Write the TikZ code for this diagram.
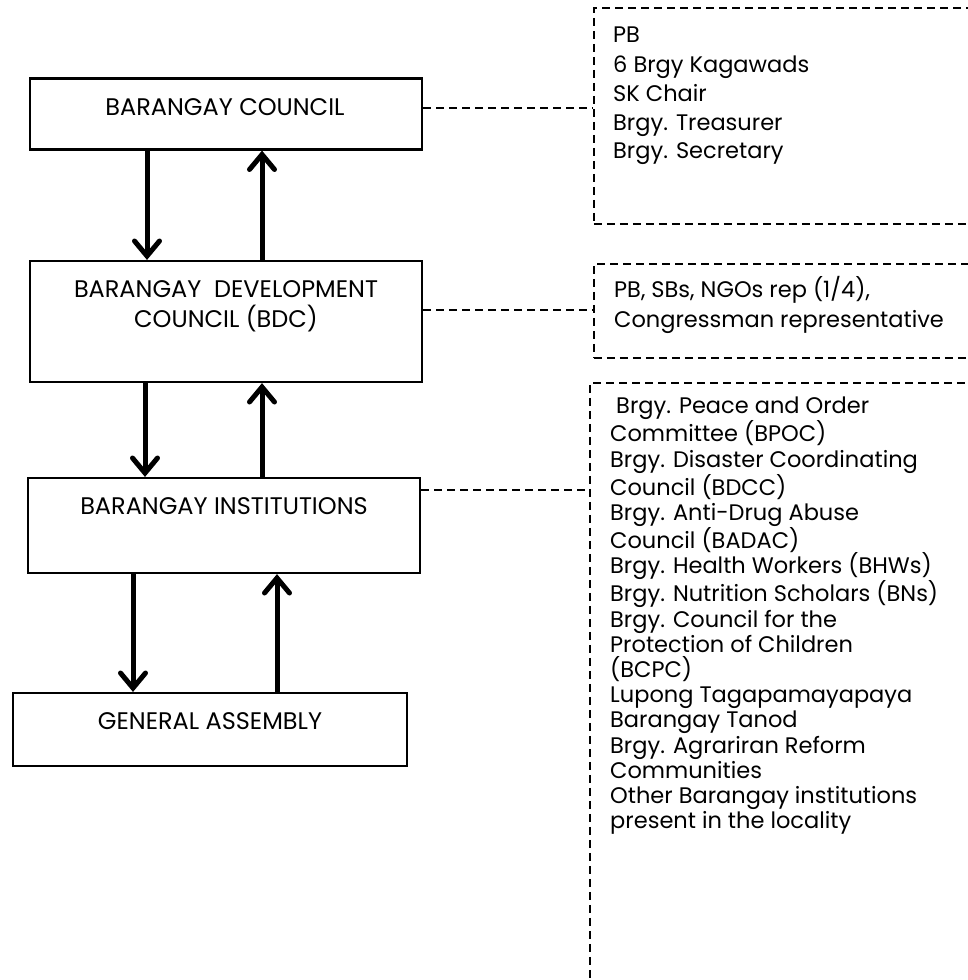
\documentclass[tikz,border=0pt]{standalone}
\usepackage{fontspec}
\setmainfont{Poppins}
\usetikzlibrary{arrows.meta,positioning,calc}

\begin{document}
\begin{tikzpicture}[
        x=1pt, y=1pt,
        unit/.style={draw, line width=2.2pt, rectangle, inner sep=0pt},
        list/.style={draw, dash pattern=on 8pt off 5pt, line width=1.9pt, rectangle, inner sep=0pt},
        caption/.style={font=\fontsize{24}{30}\selectfont, align=center, inner sep=0pt},
        members/.style={font=\fontsize{22.5}{29.5}\selectfont, align=left, inner sep=0pt},
        flow/.style={line width=5pt, -{Straight Barb[length=15pt, width=25pt, line width=5pt, line cap=round]}},
        link/.style={dash pattern=on 8pt off 5pt, line width=1.9pt}
    ]
        \useasboundingbox (0,0) rectangle (968,-980);
        \clip (0,0) rectangle (968,-980);

        % Hierarchy boxes
        \node[unit, minimum width=392pt, minimum height=71pt] (council) at (226,-114) {};
        \node[unit, minimum width=392pt, minimum height=121pt] (bdc) at (226,-321.5) {};
        \node[unit, minimum width=392pt, minimum height=95pt] (inst) at (224,-525.5) {};
        \node[unit, minimum width=394pt, minimum height=73pt] (assembly) at (210,-729.5) {};

        % Box captions
        \node[caption, anchor=base] at (225,-115) {BARANGAY COUNCIL};
        \node[caption, anchor=base] at (226,-297) {BARANGAY\ \ DEVELOPMENT};
        \node[caption, anchor=base] at (226,-327) {COUNCIL (BDC)};
        \node[caption, anchor=base] at (224,-514) {BARANGAY INSTITUTIONS};
        \node[caption, anchor=base] at (210,-729) {GENERAL ASSEMBLY};

        % Arrow columns
        \coordinate (downA) at (147,0);
        \coordinate (upA) at (262,0);
        \coordinate (downB) at (145,0);
        \coordinate (upB) at (262,0);
        \coordinate (downC) at (133,0);
        \coordinate (upC) at (277,0);

        % Arrows
        \draw[flow] (council.south -| downA) -- (bdc.north -| downA);
        \draw[flow] (bdc.north -| upA) -- (council.south -| upA);
        \draw[flow] (bdc.south -| downB) -- (inst.north -| downB);
        \draw[flow] (inst.north -| upB) -- (bdc.south -| upB);
        \draw[flow] (inst.south -| downC) -- (assembly.north -| downC);
        \draw[flow] (assembly.north -| upC) -- (inst.south -| upC);

        % Member lists
        \node[list, minimum width=420pt, minimum height=216pt, anchor=north west] (councilList) at (593,-7) {};
        \node[list, minimum width=420pt, minimum height=94pt, anchor=north west] (bdcList) at (593,-263) {};
        \node[list, minimum width=420pt, minimum height=640pt, anchor=north west] (instList) at (589,-382) {};

        \node[members, anchor=base west] at (613,-42) {PB};
        \node[members, anchor=base west] at (613,-72) {6 Brgy Kagawads};
        \node[members, anchor=base west] at (613,-101) {SK Chair};
        \node[members, anchor=base west] at (613,-130) {Brgy. Treasurer};
        \node[members, anchor=base west] at (613,-158) {Brgy. Secretary};

        \node[members, anchor=base west] at (614,-297) {PB, SBs, NGOs rep (1/4),};
        \node[members, anchor=base west] at (614,-327) {Congressman representative};

        \node[members, anchor=north west, font=\fontsize{22.5}{25.2}\selectfont] (instText) at (610,-397) {
            \ Brgy. Peace and Order\\
            Committee (BPOC)\\
            Brgy. Disaster Coordinating\\
            Council (BDCC)\\
            Brgy. Anti-Drug Abuse\\
            Council (BADAC)\\
            Brgy. Health Workers (BHWs)\\
            Brgy. Nutrition Scholars (BNs)\\
            Brgy. Council for the\\
            Protection of Children\\
            (BCPC)\\
            Lupong Tagapamayapaya\\
            Barangay Tanod\\
            Brgy. Agrariran Reform\\
            Communities\\
            Other Barangay institutions\\
            present in the locality
        };

        % Dashed links
        \coordinate (linkA) at (0,-108);
        \coordinate (linkB) at (0,-310);
        \coordinate (linkC) at (0,-490);
        \draw[link] (council.east |- linkA) -- (councilList.west |- linkA);
        \draw[link] (bdc.east |- linkB) -- (bdcList.west |- linkB);
        \draw[link] (inst.east |- linkC) -- (instList.west |- linkC);
    \end{tikzpicture}
\end{document}
